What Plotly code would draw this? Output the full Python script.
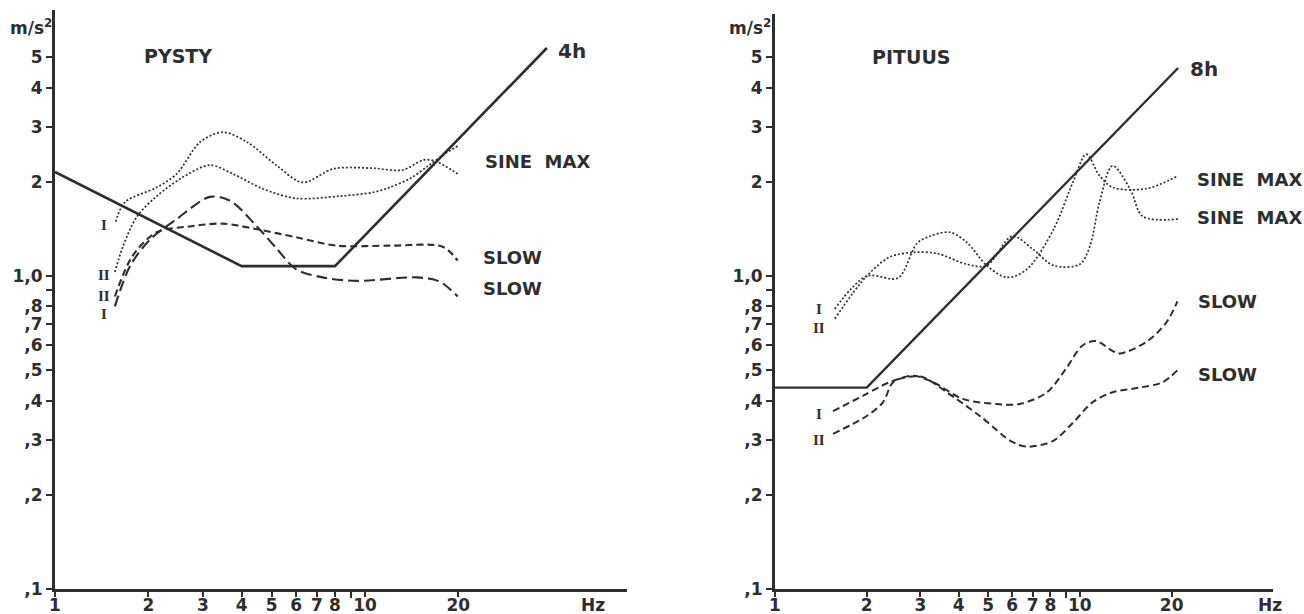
import plotly.graph_objects as go
import math

# ---------------- data: PYSTY (left) ----------------
limit4h_f = [1, 4, 8, 38.6]
limit4h_a = [2.15, 1.075, 1.075, 5.35]

pysty_sine1_f = [1.57, 1.68, 2.13, 2.47, 2.94, 3.48, 4.16, 5.2, 6.3, 7.9, 10.6, 13.2, 15.5, 17.0, 19.9]
pysty_sine1_a = [1.49, 1.72, 1.92, 2.12, 2.68, 2.88, 2.68, 2.25, 1.99, 2.2, 2.21, 2.18, 2.35, 2.32, 2.12]

pysty_sine2_f = [1.56, 1.66, 1.84, 2.13, 2.59, 3.16, 3.75, 4.68, 6.0, 8.3, 10.6, 12.0, 14.0, 16.0, 18.0, 19.9]
pysty_sine2_a = [1.03, 1.25, 1.55, 1.8, 2.07, 2.26, 2.12, 1.9, 1.77, 1.8, 1.85, 1.92, 2.05, 2.25, 2.45, 2.6]

pysty_slow1_f = [1.56, 1.75, 2.03, 2.47, 3.16, 3.67, 4.48, 5.2, 6.0, 7.3, 9.4, 14.7, 17.4, 19.9]
pysty_slow1_a = [0.80, 1.08, 1.31, 1.52, 1.79, 1.74, 1.44, 1.22, 1.05, 0.99, 0.965, 0.99, 0.96, 0.86]

pysty_slow2_f = [1.56, 1.78, 2.13, 2.72, 3.48, 4.48, 6.0, 8.1, 12.0, 17.8, 19.9]
pysty_slow2_a = [0.86, 1.16, 1.38, 1.44, 1.47, 1.41, 1.33, 1.25, 1.25, 1.24, 1.12]

# ---------------- data: PITUUS (right) ----------------
limit8h_f = [1, 2, 21]
limit8h_a = [0.44, 0.44, 4.62]

pituus_sine1_f = [1.57, 2.0, 2.53, 2.92, 3.22, 3.75, 4.26, 4.95, 5.76, 6.7, 8.2, 9.5, 10.5, 11.6, 12.8, 16.5, 21.0]
pituus_sine1_a = [0.785, 1.0, 0.985, 1.27, 1.34, 1.38, 1.28, 1.08, 0.99, 1.05, 1.41, 2.0, 2.45, 2.09, 1.92, 1.9, 2.09]

pituus_sine2_f = [1.57, 2.0, 2.38, 2.84, 3.4, 4.26, 4.95, 6.0, 7.0, 8.2, 10.0, 10.8, 11.6, 12.8, 14.6, 16.1, 21.0]
pituus_sine2_a = [0.73, 1.0, 1.15, 1.19, 1.18, 1.09, 1.08, 1.34, 1.22, 1.08, 1.09, 1.25, 1.72, 2.25, 1.9, 1.55, 1.52]

pituus_slow1_f = [1.55, 1.94, 2.38, 2.84, 3.3, 4.13, 5.34, 6.35, 7.8, 9.0, 10.2, 11.3, 12.8, 13.5, 16.5, 19.2, 20.9]
pituus_slow1_a = [0.37, 0.414, 0.458, 0.48, 0.458, 0.405, 0.39, 0.39, 0.425, 0.505, 0.6, 0.62, 0.576, 0.565, 0.615, 0.71, 0.83]

pituus_slow2_f = [1.55, 2.0, 2.26, 2.44, 2.7, 3.06, 3.66, 4.7, 6.0, 6.7, 8.15, 9.5, 11.0, 12.8, 15.7, 18.7, 20.9]
pituus_slow2_a = [0.313, 0.357, 0.395, 0.458, 0.475, 0.475, 0.425, 0.357, 0.295, 0.285, 0.297, 0.34, 0.395, 0.425, 0.44, 0.458, 0.50]

# ---------------- ticks ----------------
x_tickvals = [1, 2, 3, 4, 5, 6, 7, 8, 10, 20]
x_ticktext = ["1", "2", "3", "4", "5", "6", "7", "8", "10", "20"]
x_minor_ticks = [9]
y_tickvals = [0.1, 0.2, 0.3, 0.4, 0.5, 0.6, 0.7, 0.8, 1.0, 2, 3, 4, 5]
y_ticktext = [",1", ",2", ",3", ",4", ",5", ",6", ",7", ",8", "1,0", "2", "3", "4", "5"]
y_minor_ticks = [0.9]

INK = "#2e2e2e"
W, H = 1304, 614
FONT = "DejaVu Sans"

fig = go.Figure()

def add_line(f, a, xa, ya, dash, width, smooth=True):
    fig.add_trace(go.Scatter(
        x=f, y=a, mode="lines", xaxis=xa, yaxis=ya,
        line=dict(color=INK, width=width, dash=dash,
                  shape="spline" if smooth else "linear", smoothing=0.9),
        showlegend=False, hoverinfo="skip"))

# left panel
add_line(limit4h_f, limit4h_a, "x", "y", "solid", 2.6, smooth=False)
add_line(pysty_sine1_f, pysty_sine1_a, "x", "y", "2px,2px", 1.7)
add_line(pysty_sine2_f, pysty_sine2_a, "x", "y", "2px,2px", 1.7)
add_line(pysty_slow1_f, pysty_slow1_a, "x", "y", "11px,5px", 2.1)
add_line(pysty_slow2_f, pysty_slow2_a, "x", "y", "7px,4px", 2.1)
# right panel
add_line(limit8h_f, limit8h_a, "x2", "y2", "solid", 2.4, smooth=False)
add_line(pituus_sine1_f, pituus_sine1_a, "x2", "y2", "2px,2px", 1.7)
add_line(pituus_sine2_f, pituus_sine2_a, "x2", "y2", "2px,2px", 1.7)
add_line(pituus_slow1_f, pituus_slow1_a, "x2", "y2", "7px,4px", 2.0)
add_line(pituus_slow2_f, pituus_slow2_a, "x2", "y2", "7px,4px", 2.0)

tickfont = dict(family=FONT, size=17, color=INK, weight="bold")
minor_cfg = dict(tickmode="array", ticks="outside", ticklen=6, tickwidth=2, tickcolor=INK, showgrid=False)

def xaxis_cfg(domain, maxhz, anchor):
    return dict(type="log", domain=domain, range=[0, math.log10(maxhz)],
                tickmode="array", tickvals=x_tickvals, ticktext=x_ticktext, ticks="outside",
                ticklen=5, tickwidth=2, tickcolor=INK, tickfont=tickfont,
                minor=dict(minor_cfg, tickvals=x_minor_ticks),
                showline=True, linecolor=INK, linewidth=3, showgrid=False,
                zeroline=False, anchor=anchor, ticklabelstandoff=-6, automargin=False)

def yaxis_cfg(domain, top, anchor):
    return dict(type="log", domain=domain, range=[-1, top],
                tickmode="array", tickvals=y_tickvals, ticktext=y_ticktext, ticks="outside",
                ticklen=6, tickwidth=2, tickcolor=INK, tickfont=tickfont,
                minor=dict(minor_cfg, tickvals=y_minor_ticks),
                showline=True, linecolor=INK, linewidth=3, showgrid=False,
                zeroline=False, anchor=anchor, ticklabelstandoff=0, automargin=False)

ybot = (H - 589) / H
fig.update_layout(
    width=W, height=H, margin=dict(l=0, r=0, t=0, b=0, autoexpand=False),
    paper_bgcolor="white", plot_bgcolor="white",
    xaxis=xaxis_cfg([55 / W, 627 / W], 70, "y"),
    yaxis=yaxis_cfg([ybot, (H - 10) / H], (589 - 10) / 313 - 1, "x"),
    xaxis2=xaxis_cfg([775 / W, 1273 / W], 43, "y2"),
    yaxis2=yaxis_cfg([ybot, (H - 14) / H], (589 - 14) / 313 - 1, "x2"),
)

bold = dict(family=FONT, color=INK, weight="bold")
serif = dict(family="Liberation Serif", color=INK, weight="bold", size=15)

def label(text, x, y, xr, yr, size=18, font=None, xanchor="center"):
    f = dict(font) if font else dict(bold, size=size)
    fig.add_annotation(text=text, x=math.log10(x), y=math.log10(y), xref=xr, yref=yr,
                       showarrow=False, font=f, xanchor=xanchor, yanchor="middle")

# left panel texts
label("PYSTY", 2.5, 5.05, "x", "y", 19)
label("4h", 46.5, 5.24, "x", "y", 20)
label("SINE  MAX", 36.0, 2.33, "x", "y", 18)
label("SLOW", 29.8, 1.15, "x", "y", 18)
label("SLOW", 29.8, 0.909, "x", "y", 18)
label("I", 1.44, 1.456, "x", "y", font=serif)
label("II", 1.44, 1.007, "x", "y", font=serif)
label("II", 1.44, 0.862, "x", "y", font=serif)
label("I", 1.44, 0.757, "x", "y", font=serif)

# right panel texts
label("PITUUS", 2.81, 5.0, "x2", "y2", 19)
label("8h", 22.6, 4.59, "x2", "y2", 20, xanchor="left")
label("SINE  MAX", 36.1, 2.04, "x2", "y2", 18)
label("SINE  MAX", 36.1, 1.54, "x2", "y2", 18)
label("SLOW", 30.6, 0.832, "x2", "y2", 18)
label("SLOW", 30.6, 0.486, "x2", "y2", 18)
label("I", 1.39, 0.782, "x2", "y2", font=serif)
label("II", 1.39, 0.683, "x2", "y2", font=serif)
label("I", 1.39, 0.362, "x2", "y2", font=serif)
label("II", 1.39, 0.30, "x2", "y2", font=serif)

# unit labels
for xp, yp, t in [(31, 27, "m/s<sup>2</sup>"), (750, 27, "m/s<sup>2</sup>"),
                  (593, 605, "Hz"), (1270, 605, "Hz")]:
    fig.add_annotation(text=t, x=xp / W, y=(H - yp) / H, xref="paper", yref="paper",
                       xanchor="center", yanchor="middle",
                       showarrow=False, font=dict(bold, size=17))

fig.write_html("out.html", config={"displayModeBar": False},
               post_script="document.body.style.margin='0';document.body.style.overflow='hidden';")
